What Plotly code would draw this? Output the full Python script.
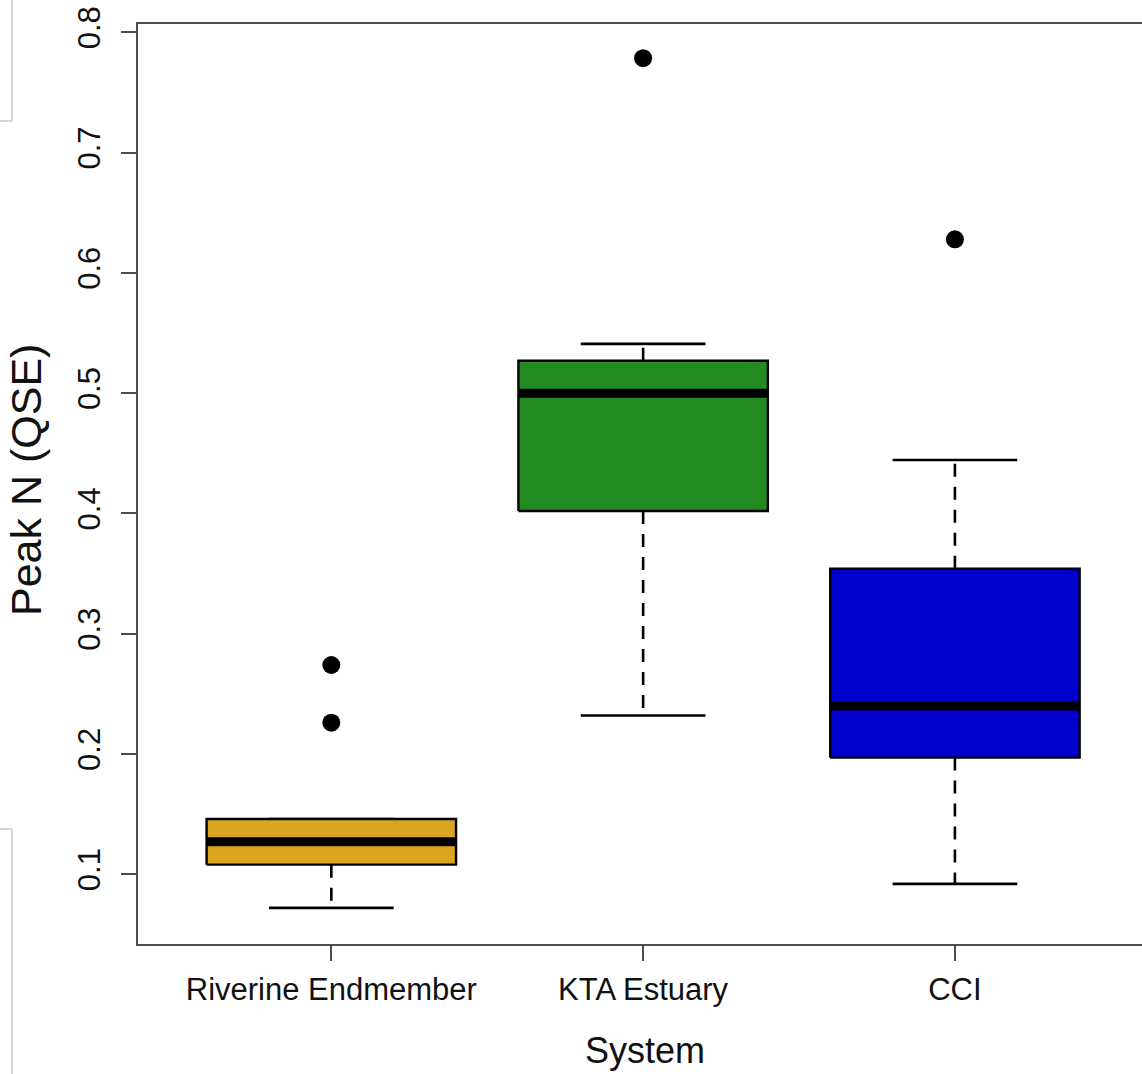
import plotly.graph_objects as go

# ---- data ----
categories = ["Riverine Endmember", "KTA Estuary", "CCI"]
lower_whisker = [0.072, 0.232, 0.092]
q1_values = [0.108, 0.402, 0.197]
medians = [0.127, 0.500, 0.240]
q3_values = [0.146, 0.527, 0.354]
upper_whisker = [0.146, 0.541, 0.4445]
outliers = [[0.274, 0.226], [0.7786], [0.628]]
box_colors = ["#DAA520", "#228B22", "#0000CD"]
y_tick_values = [0.1, 0.2, 0.3, 0.4, 0.5, 0.6, 0.7, 0.8]
y_tick_labels = ["0.1", "0.2", "0.3", "0.4", "0.5", "0.6", "0.7", "0.8"]

BOXWEX = 0.8
STAPLE = 0.4
FONT = "Liberation Sans, Arial, sans-serif"

fig = go.Figure()

for i, cat in enumerate(categories):
    xc = i + 1
    # dashed whiskers
    fig.add_trace(go.Scatter(
        x=[xc, xc, None, xc, xc],
        y=[q3_values[i], upper_whisker[i], None, q1_values[i], lower_whisker[i]],
        mode="lines", line=dict(color="black", width=2.6, dash="13px,10px"),
        hoverinfo="skip", showlegend=False))
    # staples
    fig.add_trace(go.Scatter(
        x=[xc - STAPLE / 2, xc + STAPLE / 2, None, xc - STAPLE / 2, xc + STAPLE / 2],
        y=[upper_whisker[i], upper_whisker[i], None, lower_whisker[i], lower_whisker[i]],
        mode="lines", line=dict(color="black", width=2.6),
        hoverinfo="skip", showlegend=False))
    # box
    h = BOXWEX / 2
    fig.add_trace(go.Scatter(
        x=[xc - h, xc + h, xc + h, xc - h, xc - h],
        y=[q1_values[i], q1_values[i], q3_values[i], q3_values[i], q1_values[i]],
        mode="lines", fill="toself", fillcolor=box_colors[i],
        line=dict(color="black", width=2.4),
        name=cat, showlegend=False))
    # median
    fig.add_trace(go.Scatter(
        x=[xc - h, xc + h], y=[medians[i], medians[i]],
        mode="lines", line=dict(color="black", width=9),
        hoverinfo="skip", showlegend=False))
    # outliers
    fig.add_trace(go.Scatter(
        x=[xc] * len(outliers[i]), y=outliers[i], mode="markers",
        marker=dict(color="black", size=18, symbol="circle"),
        showlegend=False))

W, H = 1142, 1074
ML, MR, MT, MB = 138, 0, 24, 130
pw, ph = W - ML - MR, H - MT - MB

def px_x(px):
    return (px - ML) / pw

def px_y(py):
    return (H - MB - py) / ph

axis_col = "#4d4d4d"
fig.update_layout(
    width=W, height=H,
    margin=dict(l=ML, r=MR, t=MT, b=MB),
    paper_bgcolor="white", plot_bgcolor="white",
    font=dict(family=FONT, color="black"),
    xaxis=dict(range=[0.38, 3.60], tickvals=[1, 2, 3], ticktext=categories,
               showgrid=False, zeroline=False, showline=True, mirror=True,
               linecolor=axis_col, linewidth=2, ticks="outside", ticklen=15,
               tickwidth=2, tickcolor=axis_col,
               tickfont=dict(family=FONT, size=31, color="#111111"),
               ticklabelstandoff=2),
    yaxis=dict(range=[0.042, 0.807], tickvals=y_tick_values, ticktext=y_tick_labels,
               showgrid=False, zeroline=False, showline=True, mirror=False,
               linecolor=axis_col, linewidth=2, ticks="outside", ticklen=15,
               tickwidth=2, tickcolor=axis_col, tickangle=-90,
               tickfont=dict(family=FONT, size=31, color="#111111"),
               ticklabelstandoff=9),
    annotations=[
        dict(text="System", xref="paper", yref="paper", x=px_x(645), y=px_y(1050),
             xanchor="center", yanchor="middle", showarrow=False,
             font=dict(family=FONT, size=36, color="#111111")),
        dict(text="Peak N (QSE)", xref="paper", yref="paper", x=px_x(26), y=px_y(480),
             xanchor="center", yanchor="middle", showarrow=False, textangle=-90,
             font=dict(family=FONT, size=43, color="#111111")),
    ],
    shapes=[
        dict(type="line", xref="paper", yref="paper", x0=px_x(12), x1=px_x(12),
             y0=px_y(0), y1=px_y(121), line=dict(color="#c8c8c8", width=1.5)),
        dict(type="line", xref="paper", yref="paper", x0=px_x(0), x1=px_x(12),
             y0=px_y(121), y1=px_y(121), line=dict(color="#c8c8c8", width=1.5)),
        dict(type="line", xref="paper", yref="paper", x0=px_x(0), x1=px_x(12),
             y0=px_y(829), y1=px_y(829), line=dict(color="#c8c8c8", width=1.5)),
        dict(type="line", xref="paper", yref="paper", x0=px_x(12), x1=px_x(12),
             y0=px_y(829), y1=px_y(1074), line=dict(color="#c8c8c8", width=1.5)),
    ],
)

fig.write_html("out.html", config={"displayModeBar": False},
               post_script="document.body.style.margin='0px';document.body.style.overflow='hidden';")
